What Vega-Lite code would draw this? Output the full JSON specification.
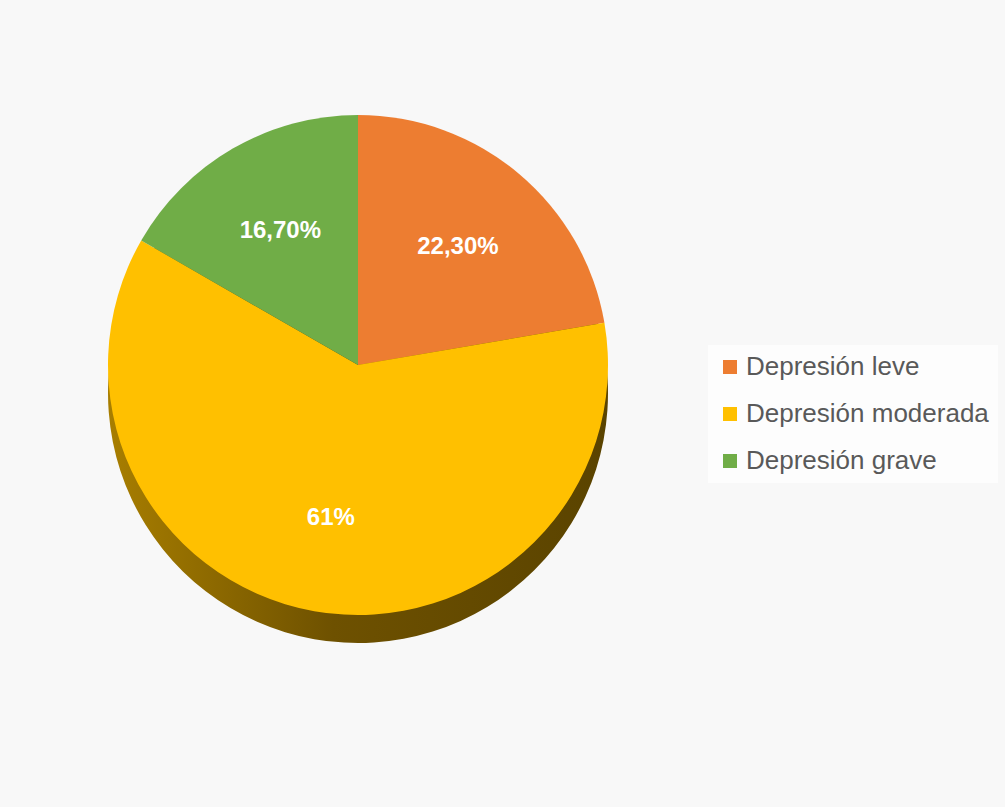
{
  "$schema": "https://vega.github.io/schema/vega-lite/v6.json",
  "width": 700,
  "height": 706,
  "padding": {"left": 8, "top": 12, "right": 12, "bottom": 89},
  "background": "#f8f8f8",
  "config": {"view": {"stroke": null}},
  "data": {
    "values": [
      {"orden": 1, "categoria": "Depresión leve", "valor": 22.3, "etiqueta": "22,30%"},
      {"orden": 2, "categoria": "Depresión moderada", "valor": 61, "etiqueta": "61%"},
      {"orden": 3, "categoria": "Depresión grave", "valor": 16.7, "etiqueta": "16,70%"}
    ]
  },
  "layer": [
    {
      "mark": {
        "type": "arc",
        "outerRadius": 250,
        "yOffset": 28,
        "fill": {
          "gradient": "linear",
          "x1": 0, "x2": 1, "y1": 0, "y2": 0,
          "stops": [
            {"offset": 0, "color": "#a87e00"},
            {"offset": 0.45, "color": "#6e5100"},
            {"offset": 1, "color": "#5a4300"}
          ]
        }
      },
      "encoding": {
        "theta": {"field": "valor", "type": "quantitative", "stack": true},
        "order": {"field": "orden", "type": "quantitative", "sort": "ascending"}
      }
    },
    {
      "mark": {"type": "arc", "outerRadius": 250},
      "encoding": {
        "theta": {"field": "valor", "type": "quantitative", "stack": true},
        "order": {"field": "orden", "type": "quantitative", "sort": "ascending"},
        "color": {
          "field": "categoria",
          "type": "nominal",
          "sort": ["Depresión leve", "Depresión moderada", "Depresión grave"],
          "scale": {
            "domain": ["Depresión leve", "Depresión moderada", "Depresión grave"],
            "range": ["#ed7d31", "#ffc000", "#70ad47"]
          },
          "legend": {
            "title": null,
            "orient": "none",
            "legendX": 700,
            "legendY": 333,
            "symbolType": "square",
            "symbolSize": 196,
            "symbolStrokeWidth": 0,
            "labelFont": "Liberation Sans",
            "labelFontSize": 26,
            "labelOffset": 3,
            "labelColor": "#595959",
            "labelLimit": 400,
            "rowPadding": 21,
            "fillColor": "#fdfdfd",
            "padding": 9
          }
        }
      }
    },
    {
      "mark": {
        "type": "text",
        "radius": 155,
        "font": "Liberation Sans",
        "fontSize": 24,
        "fontWeight": "bold",
        "fill": "#ffffff"
      },
      "encoding": {
        "theta": {"field": "valor", "type": "quantitative", "stack": true},
        "order": {"field": "orden", "type": "quantitative", "sort": "ascending"},
        "text": {"field": "etiqueta"}
      }
    }
  ]
}
